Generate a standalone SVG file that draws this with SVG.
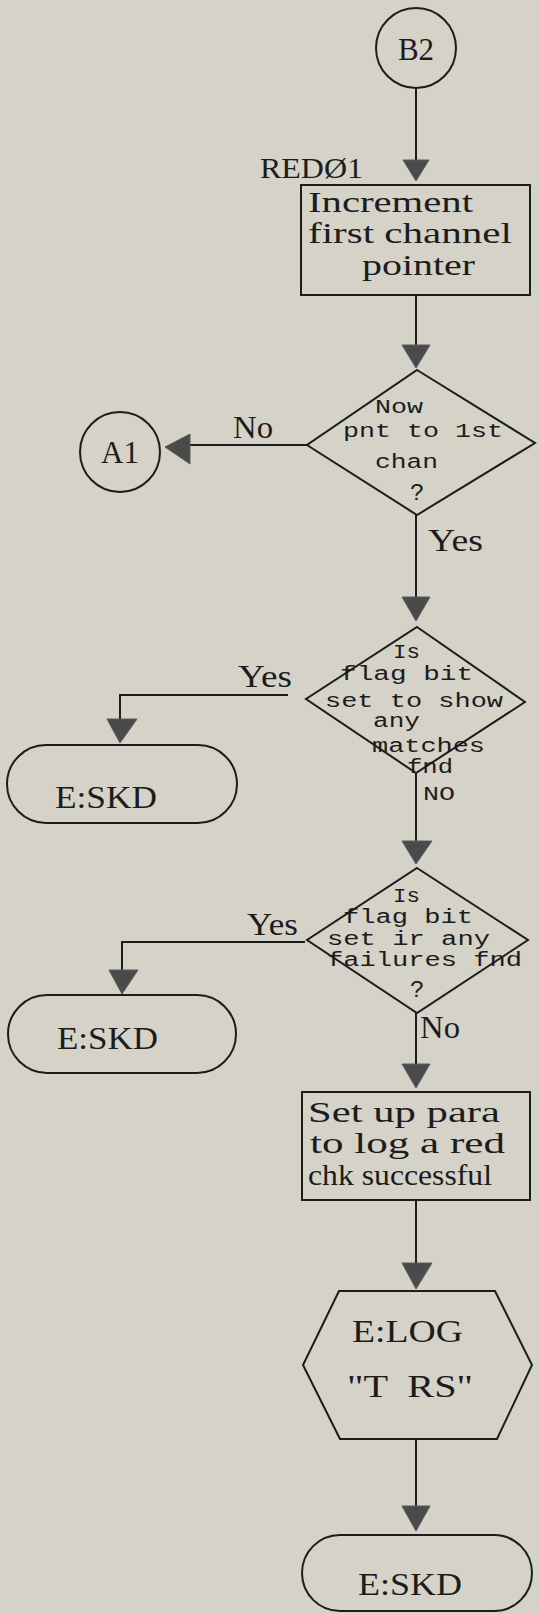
<svg xmlns="http://www.w3.org/2000/svg" width="539" height="1613" viewBox="0 0 539 1613">
<style>
.bg{fill:#d5d2c8}
.shape{fill:none;stroke:#1c1c1c;stroke-width:2}
.line{fill:none;stroke:#1c1c1c;stroke-width:2}
.arr{fill:#4a4a4a;stroke:#5a5a5a;stroke-width:1}
.serif{font-family:"Liberation Serif","Times New Roman",serif;fill:#1c1c1c}
.mono{font-family:"Liberation Mono","Courier New",monospace;fill:#1c1c1c;font-size:20px}
.q{font-size:24px}
.big{font-size:31px}
.box{font-size:29px}
</style>
<rect class="bg" x="0" y="0" width="539" height="1613"/>
<g id="connectors">
  <line class="line" x1="416" y1="88" x2="416" y2="160"/>
  <polygon class="arr" points="403,160 429,160 416,181"/>
  <line class="line" x1="416" y1="295" x2="416" y2="345"/>
  <polygon class="arr" points="402,345 430,345 416,368"/>
  <line class="line" x1="307" y1="445" x2="188" y2="445"/>
  <polygon class="arr" points="190,434 190,464 165,447"/>
  <text class="serif big" x="233" y="438" textLength="40" lengthAdjust="spacingAndGlyphs">No</text>
  <line class="line" x1="416" y1="515" x2="416" y2="597"/>
  <polygon class="arr" points="402,597 430,597 416,621"/>
  <text class="serif big" x="428" y="551" textLength="55" lengthAdjust="spacingAndGlyphs">Yes</text>
  <polyline class="line" points="288,695 120,695 120,720"/>
  <polygon class="arr" points="107,719 137,719 120,743"/>
  <text class="serif big" x="238" y="687" textLength="54" lengthAdjust="spacingAndGlyphs">Yes</text>
  <line class="line" x1="416" y1="773" x2="416" y2="842"/>
  <polygon class="arr" points="402,841 432,841 416,864"/>
  <text class="mono" x="423" y="800" textLength="32" lengthAdjust="spacingAndGlyphs">NO</text>
  <polyline class="line" points="305,942 122,942 122,971"/>
  <polygon class="arr" points="109,970 138,970 122,994"/>
  <text class="serif big" x="247" y="935" textLength="51" lengthAdjust="spacingAndGlyphs">Yes</text>
  <line class="line" x1="416" y1="1013" x2="416" y2="1065"/>
  <polygon class="arr" points="402,1064 430,1064 416,1088"/>
  <text class="serif big" x="420" y="1038" textLength="40" lengthAdjust="spacingAndGlyphs">No</text>
  <line class="line" x1="416" y1="1200" x2="416" y2="1264"/>
  <polygon class="arr" points="402,1263 432,1263 416,1289"/>
  <line class="line" x1="416" y1="1439" x2="416" y2="1507"/>
  <polygon class="arr" points="402,1506 430,1506 416,1531"/>
</g>
<g id="B2">
  <circle class="shape" cx="416" cy="48" r="40"/>
  <text class="serif big" x="416" y="60" text-anchor="middle">B2</text>
</g>
<g id="RED01">
  <text class="serif" font-size="29" x="260" y="178" textLength="103" lengthAdjust="spacingAndGlyphs">REDØ1</text>
</g>
<g id="increment">
  <rect class="shape" x="301" y="185" width="229" height="110"/>
  <text class="serif box" x="308" y="212" textLength="165" lengthAdjust="spacingAndGlyphs">Increment</text>
  <text class="serif box" x="308" y="243" textLength="204" lengthAdjust="spacingAndGlyphs">first channel</text>
  <text class="serif box" x="362" y="275" textLength="113" lengthAdjust="spacingAndGlyphs">pointer</text>
</g>
<g id="A1">
  <circle class="shape" cx="120" cy="452" r="40"/>
  <text class="serif big" x="120" y="463" text-anchor="middle">A1</text>
</g>
<g id="decision1">
  <polygon class="shape" points="417,370 535,443 417,515 307,445"/>
  <text class="mono" x="375" y="413" textLength="48" lengthAdjust="spacingAndGlyphs">Now</text>
  <text class="mono" x="343" y="437" textLength="160" lengthAdjust="spacingAndGlyphs">pnt to 1st</text>
  <text class="mono" x="375" y="468" textLength="63" lengthAdjust="spacingAndGlyphs">chan</text>
  <text class="mono q" x="410" y="500">?</text>
</g>
<g id="decision2">
  <polygon class="shape" points="417,627 525,702 416,773 306,699"/>
  <text class="mono" x="393" y="658" textLength="27" lengthAdjust="spacingAndGlyphs">Is</text>
  <text class="mono" x="340" y="680" textLength="133" lengthAdjust="spacingAndGlyphs">flag bit</text>
  <text class="mono" x="325" y="707" textLength="178" lengthAdjust="spacingAndGlyphs">set to show</text>
  <text class="mono" x="373" y="727" textLength="47" lengthAdjust="spacingAndGlyphs">any</text>
  <text class="mono" x="372" y="752" textLength="113" lengthAdjust="spacingAndGlyphs">matches</text>
  <text class="mono" x="407" y="773" textLength="46" lengthAdjust="spacingAndGlyphs">fnd</text>
</g>
<g id="skd1">
  <rect class="shape" x="7" y="745" width="230" height="78" rx="39" ry="39"/>
  <text class="serif big" x="55" y="808" textLength="102" lengthAdjust="spacingAndGlyphs">E:SKD</text>
</g>
<g id="decision3">
  <polygon class="shape" points="417,868 528,940 417,1013 307,940"/>
  <text class="mono" x="393" y="902" textLength="27" lengthAdjust="spacingAndGlyphs">Is</text>
  <text class="mono" x="343" y="923" textLength="130" lengthAdjust="spacingAndGlyphs">flag bit</text>
  <text class="mono" x="327" y="945" textLength="163" lengthAdjust="spacingAndGlyphs">set ir any</text>
  <text class="mono" x="327" y="966" textLength="195" lengthAdjust="spacingAndGlyphs">failures fnd</text>
  <text class="mono q" x="410" y="997">?</text>
</g>
<g id="skd2">
  <rect class="shape" x="8" y="995" width="228" height="78" rx="39" ry="39"/>
  <text class="serif big" x="57" y="1049" textLength="101" lengthAdjust="spacingAndGlyphs">E:SKD</text>
</g>
<g id="setup">
  <rect class="shape" x="302" y="1092" width="228" height="108"/>
  <text class="serif box" x="308" y="1122" textLength="192" lengthAdjust="spacingAndGlyphs">Set up para</text>
  <text class="serif box" x="310" y="1153" textLength="195" lengthAdjust="spacingAndGlyphs">to log a red</text>
  <text class="serif box" x="308" y="1185" textLength="184" lengthAdjust="spacingAndGlyphs">chk successful</text>
</g>
<g id="log">
  <polygon class="shape" points="339,1291 495,1291 532,1365 497,1439 340,1439 303,1365"/>
  <text class="serif big" x="352" y="1342" textLength="111" lengthAdjust="spacingAndGlyphs">E:LOG</text>
  <text class="serif big" x="347" y="1397" textLength="126" lengthAdjust="spacingAndGlyphs" xml:space="preserve">"T  RS"</text>
</g>
<g id="skd3">
  <rect class="shape" x="302" y="1535" width="230" height="76" rx="38" ry="38"/>
  <text class="serif big" x="358" y="1595" textLength="104" lengthAdjust="spacingAndGlyphs">E:SKD</text>
</g>
</svg>
